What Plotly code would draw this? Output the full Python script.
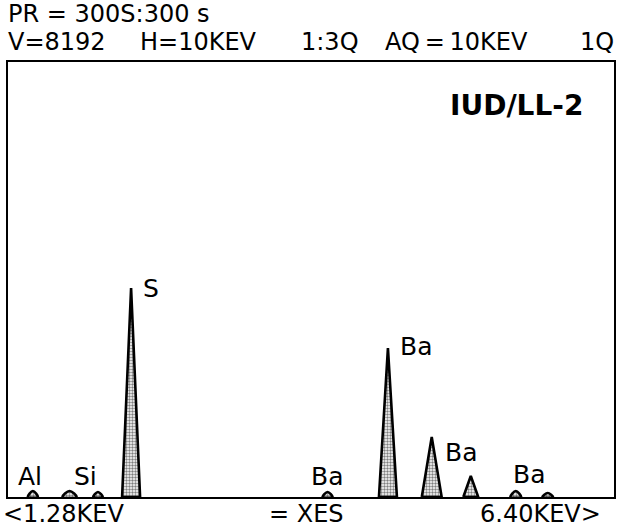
import plotly.graph_objects as go

# Peak data (energy in keV, counts, base width in keV)
peak_energy = [1.49, 1.80, 2.04, 2.32, 3.98, 4.49, 4.86, 5.19, 5.57, 5.84]
peak_counts = [113, 113, 94, 3936, 94, 2806, 1130, 395, 113, 75]
peak_width = [0.084, 0.12, 0.08, 0.152, 0.084, 0.152, 0.168, 0.126, 0.09, 0.09]

x_min_kev = 1.28
x_max_kev = 6.40
v_full_scale = 8192

# Element labels beside peaks
label_text = ["Al", "Si", "S", "Ba", "Ba", "Ba", "Ba"]
label_energy = [1.465, 1.937, 2.49, 3.975, 4.724, 5.11, 5.68]
label_counts = [377, 377, 3936, 377, 2825, 847, 433]

# Header / footer texts and their page positions (left x, middle y)
header_text = ["PR = 300S:300 s", "V=8192", "H=10KEV", "1:3Q",
               "AQ\u2009=\u200910KEV", "1Q", "<1.28KEV", "= XES", "6.40KEV>"]
header_px = [6, 6, 138, 300, 384, 580, 1, 268, 480]
header_py = [14, 42, 42, 42, 42, 42, 514, 514, 514]

sample_id = "IUD/LL-2"

W, H = 618, 532
L, R, T, B = 8, 2, 62, 35
pw, ph = W - L - R, H - T - B

fig = go.Figure()

for e, c, w in zip(peak_energy, peak_counts, peak_width):
    small = c < 200
    fig.add_trace(go.Scatter(
        x=[e - w / 2, e, e + w / 2, e - w / 2],
        y=[0, c, 0, 0],
        mode="lines",
        fill="toself",
        fillcolor="white",
        fillpattern=dict(shape=".", fgcolor="black", bgcolor="white",
                         size=3, solidity=0.5),
        line=dict(color="black", width=2.6,
                  shape="spline" if small else "linear"),
        hoverinfo="skip",
        showlegend=False,
    ))

for t, e, c in zip(label_text, label_energy, label_counts):
    fig.add_annotation(x=e, y=c, text=t, showarrow=False,
                       xref="x", yref="y", xanchor="center", yanchor="middle",
                       font=dict(family="DejaVu Sans", size=25, color="black"))

for t, px, py in zip(header_text, header_px, header_py):
    fig.add_annotation(x=(px - L) / pw, y=1 - (py - T) / ph,
                       xref="paper", yref="paper",
                       text=t, showarrow=False, xanchor="left", yanchor="middle",
                       font=dict(family="DejaVu Sans", size=24, color="black"))

fig.add_annotation(x=(587 - L) / pw, y=1 - (105 - T) / ph,
                   xref="paper", yref="paper",
                   text="<b>" + sample_id + "</b>", showarrow=False,
                   xanchor="right", yanchor="middle",
                   font=dict(family="DejaVu Sans", size=28, color="black"))

fig.update_layout(
    width=W, height=H,
    margin=dict(l=L, r=R, t=T, b=B),
    paper_bgcolor="white", plot_bgcolor="white",
    xaxis=dict(range=[x_min_kev, x_max_kev], showgrid=False, zeroline=False,
               showticklabels=False, ticks="", showline=True, mirror=True,
               linecolor="black", linewidth=2),
    yaxis=dict(range=[0, v_full_scale], showgrid=False, zeroline=False,
               showticklabels=False, ticks="", showline=True, mirror=True,
               linecolor="black", linewidth=2),
)

fig.write_html("out.html")
